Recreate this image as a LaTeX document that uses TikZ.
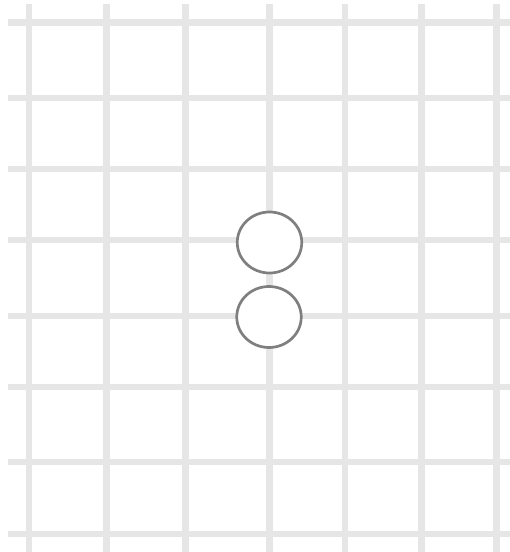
\documentclass[tikz,border=0pt]{standalone}
\usepackage{xcolor}
\definecolor{gdline}{HTML}{E6E6E6}
\definecolor{gdring}{HTML}{7F7F7F}
\usetikzlibrary{shapes.geometric}
\tikzset{
  gdrule/.style ={draw=gdline, line width=6.6pt},
  gdcell/.style ={ellipse, draw=gdring, fill=white, line width=2.7pt,
                  minimum width=64.5pt, minimum height=61pt, inner sep=0pt},
}
\begin{document}
\begin{tikzpicture}[x=1pt, y=-1pt]
  \useasboundingbox (0,0) rectangle (510,552);
  \foreach \y in {22.5,98,169,240,316,387,462,534}{
    \draw[gdrule] (8,\y) -- (510,\y);}
  \foreach \x in {29,106.5,185.7,269.5,345,421.5,496.7}{
    \draw[gdrule] (\x,4) -- (\x,552);}
  \node[gdcell] (upper) at (269.5,242.5) {};
  \node[gdcell] (lower) at (269,317) {};
\end{tikzpicture}
\end{document}
